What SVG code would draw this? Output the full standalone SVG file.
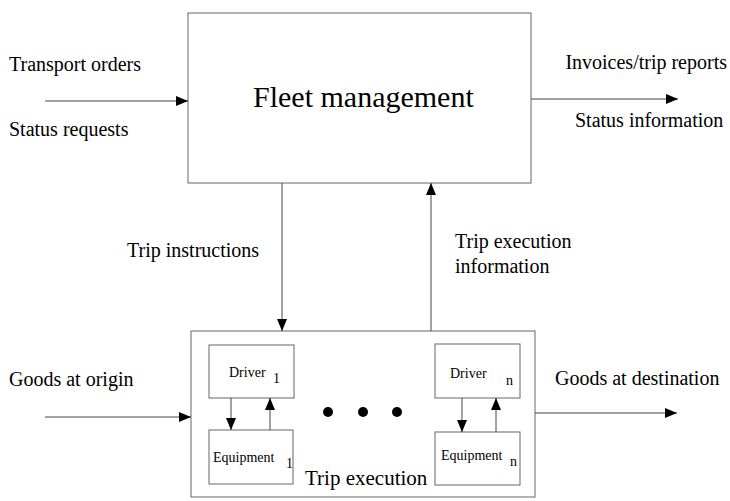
<svg xmlns="http://www.w3.org/2000/svg" width="730" height="501" viewBox="0 0 730 501">
<defs>
<marker id="ah" viewBox="0 0 12 10" refX="12" refY="5" markerWidth="12" markerHeight="10" markerUnits="userSpaceOnUse" orient="auto">
<path d="M0,0 L12,5 L0,10 Z" fill="#000"/>
</marker>
</defs>
<style>
.box{fill:none;stroke:#666;stroke-width:1}
.ln{fill:none;stroke:#444;stroke-width:1;marker-end:url(#ah)}
.lbl{font-family:"Liberation Serif","Times New Roman",serif;font-size:20px;fill:#000}
.sm{font-family:"Liberation Serif","Times New Roman",serif;font-size:14px;fill:#000}
</style>
<rect width="730" height="501" fill="#fff"/>
<g id="fleet">
<rect class="box" x="188" y="13" width="343" height="170"/>
<text x="253" y="107" font-family="Liberation Serif, Times New Roman, serif" font-size="30">Fleet management</text>
</g>
<g id="trip">
<rect class="box" x="191" y="331" width="344" height="166"/>
<text x="305" y="485" font-family="Liberation Serif, Times New Roman, serif" font-size="21">Trip execution</text>
</g>
<g id="driver1">
<rect class="box" x="209" y="345" width="85" height="53"/>
<text class="sm" x="229" y="377">Driver<tspan x="273" y="383">1</tspan></text>
</g>
<g id="equipment1">
<rect class="box" x="209" y="430" width="84" height="54"/>
<text class="sm" x="213" y="462">Equipment<tspan x="286" y="468">1</tspan></text>
</g>
<g id="drivern">
<rect class="box" x="435" y="344" width="85" height="54"/>
<text class="sm" x="450" y="378">Driver<tspan x="506" y="385">n</tspan></text>
</g>
<g id="equipmentn">
<rect class="box" x="435" y="432" width="85" height="53"/>
<text class="sm" x="441" y="460">Equipment<tspan x="510" y="466">n</tspan></text>
</g>
<g id="dots" fill="#000">
<circle cx="328" cy="412" r="5"/>
<circle cx="363" cy="412" r="5"/>
<circle cx="397" cy="412" r="5"/>
</g>
<g id="connectors">
<line class="ln" x1="45" y1="101" x2="188" y2="101"/>
<line class="ln" x1="531" y1="99" x2="678" y2="99"/>
<line class="ln" x1="282" y1="183" x2="282" y2="331"/>
<line class="ln" x1="431" y1="331" x2="431" y2="183"/>
<line class="ln" x1="45" y1="417" x2="191" y2="417"/>
<line class="ln" x1="535" y1="413" x2="677" y2="413"/>
<line class="ln" x1="231" y1="398" x2="231" y2="430"/>
<line class="ln" x1="270" y1="430" x2="270" y2="398"/>
<line class="ln" x1="462" y1="398" x2="462" y2="432"/>
<line class="ln" x1="496" y1="432" x2="496" y2="398"/>
</g>
<g id="labels">
<text class="lbl" x="9" y="71">Transport orders</text>
<text class="lbl" x="9" y="136">Status requests</text>
<text class="lbl" x="727" y="69" text-anchor="end">Invoices/trip reports</text>
<text class="lbl" x="575" y="127">Status information</text>
<text class="lbl" x="127" y="257">Trip instructions</text>
<text class="lbl" x="455" y="248">Trip execution</text>
<text class="lbl" x="455" y="273">information</text>
<text class="lbl" x="9" y="386">Goods at origin</text>
<text class="lbl" x="555" y="385">Goods at destination</text>
</g>
</svg>
